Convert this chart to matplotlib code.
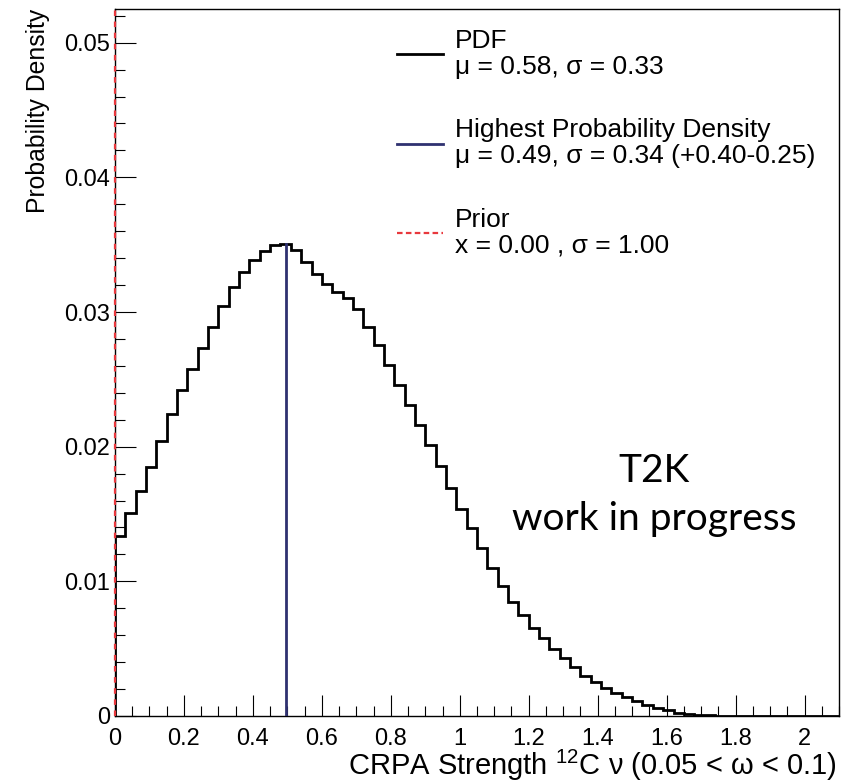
import numpy as np
import matplotlib
matplotlib.use("Agg")
import matplotlib.pyplot as plt
from matplotlib.lines import Line2D
from matplotlib.ticker import MultipleLocator, FuncFormatter

plt.rcParams['font.family'] = ['Liberation Sans', 'DejaVu Sans']
plt.rcParams['mathtext.fontset'] = 'custom'
plt.rcParams['mathtext.rm'] = 'Liberation Sans'
plt.rcParams['mathtext.it'] = 'Liberation Sans:italic'
plt.rcParams['mathtext.bf'] = 'Liberation Sans:bold'

# ---- data ----
bin_low, bin_high, n_bins = 0.0, 2.1, 70
pdf_values = [0.01338, 0.01507, 0.01672, 0.01851, 0.02039, 0.02242, 0.02423, 0.02580,
              0.02729, 0.02889, 0.03047, 0.03186, 0.03298, 0.03387, 0.03456, 0.03501,
              0.03506, 0.03458, 0.03371, 0.03284, 0.03209, 0.03149, 0.03103, 0.03025,
              0.02891, 0.02752, 0.02604, 0.02460, 0.02306, 0.02158, 0.02009, 0.01853,
              0.01692, 0.01539, 0.01395, 0.01246, 0.01102, 0.00966, 0.00847, 0.00748,
              0.00652, 0.00578, 0.00498, 0.00429, 0.00362, 0.00300, 0.00250, 0.00210,
              0.00173, 0.00143, 0.00114, 0.00082, 0.00059, 0.00041, 0.00025, 0.00015,
              0.00008, 0.00004, 0.00003, 0.00002, 0.00001, 0.00001, 0.00001, 0.0,
              0.0, 0.0, 0.0, 0.0, 0.0, 0.0]
hpd_mode = 0.495
hpd_height = 0.03506
prior_mean = 0.0

legend_labels = ["PDF\n\u03bc = 0.58, \u03c3 = 0.33",
                 "Highest Probability Density\n\u03bc = 0.49, \u03c3 = 0.34 (+0.40-0.25)",
                 "Prior\nx = 0.00 , \u03c3 = 1.00"]
xlabel = "CRPA Strength $^{12}$C \u03bd (0.05 < \u03c9 < 0.1)"
ylabel = "Probability Density"

# ---- figure ----
W, H = 850, 784
fig = plt.figure(figsize=(W / 100, H / 100), dpi=100)
ax = fig.add_axes([115 / W, (H - 716) / H, (839 - 115) / W, (716 - 9) / H])

edges = np.linspace(bin_low, bin_high, n_bins + 1)
ax.stairs(pdf_values, edges, color='black', linewidth=2.0, baseline=0, zorder=3)
ax.plot([hpd_mode, hpd_mode], [0, hpd_height], color='#2f3170', linewidth=2.0, zorder=4)
ax.axvline(prior_mean, color='#e8383d', linestyle=(0, (2.5, 2.5)), linewidth=1.6,
           zorder=5, clip_on=False)

ax.set_xlim(0, 2.1)
ax.set_ylim(0, 0.0525)

fmt = FuncFormatter(lambda v, p: f"{v:g}")
ax.xaxis.set_major_locator(MultipleLocator(0.2))
ax.xaxis.set_minor_locator(MultipleLocator(0.05))
ax.yaxis.set_major_locator(MultipleLocator(0.01))
ax.yaxis.set_minor_locator(MultipleLocator(0.002))
ax.xaxis.set_major_formatter(fmt)
ax.yaxis.set_major_formatter(fmt)

ax.tick_params(which='both', direction='in', top=False, right=False, width=0.8, color='black')
ax.tick_params(which='major', length=15)
ax.tick_params(which='minor', length=7.5)
ax.tick_params(axis='x', which='major', labelsize=17, pad=8.5)
ax.tick_params(axis='y', which='major', labelsize=17, pad=3.5)
for s in ax.spines.values():
    s.set_linewidth(1.0)

ax.set_xlabel(xlabel, fontsize=21, loc='right')
ax.xaxis.set_label_coords(0.997, -0.045)
ax.xaxis.label.set_va('top')
ax.set_ylabel(ylabel, fontsize=17.8, loc='top')
ax.yaxis.set_label_coords(-0.09, 1.0)

handles = [Line2D([], [], color='black', linewidth=2.0),
           Line2D([], [], color='#2f3170', linewidth=2.0),
           Line2D([], [], color='#e8383d', linewidth=1.6, linestyle=(0, (2.5, 1.5)))]
leg = ax.legend(handles, legend_labels, loc='upper left',
                bbox_to_anchor=(397 / W, 1 - 29 / H), bbox_transform=fig.transFigure,
                frameon=False, fontsize=19, handlelength=1.75, handletextpad=0.45,
                labelspacing=1.5, borderpad=0, borderaxespad=0)
for t in leg.get_texts():
    t.set_linespacing(1.1)

ax.text(1.565, 0.01741, "T2K", fontsize=28, family=['Lato', 'DejaVu Sans'],
        ha='center', va='baseline')
ax.text(1.565, 0.01382, "work in progress", fontsize=28, family=['Lato', 'DejaVu Sans'],
        ha='center', va='baseline')

fig.savefig("out.png", dpi=100)
